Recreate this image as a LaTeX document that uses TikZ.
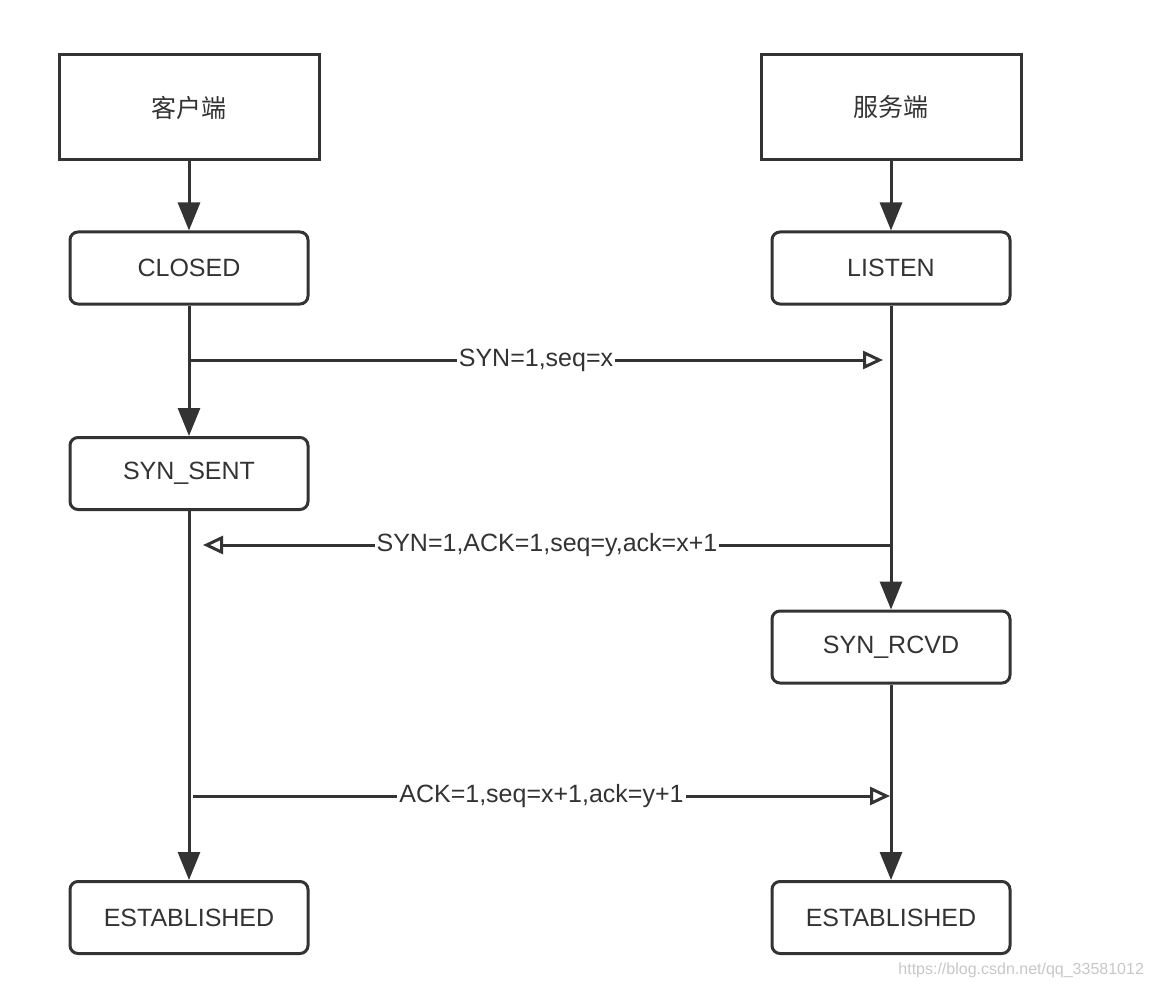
\documentclass[tikz,border=0pt]{standalone}
\usepackage{fontspec}
\setmainfont{Liberation Sans}
\newfontfamily\cjk{Noto Sans CJK SC}
\usetikzlibrary{arrows.meta}
\definecolor{ink}{HTML}{333333}
\tikzset{>={Triangle[width=11pt,length=14pt]},
  hostbox/.style={draw=ink, line width=1.5pt, minimum width=130pt, minimum height=52.5pt,
    font=\cjk\fontsize{12.5}{15}\selectfont, text=ink},
  statebox/.style={draw=ink, line width=1.5pt, rounded corners=4pt, minimum width=119pt,
    minimum height=36pt, font=\fontsize{12.5}{15}\selectfont, text=ink},
  flow/.style={->, draw=ink, line width=1.5pt},
  msg/.style={-{Triangle[open,width=9pt,length=10pt]}, draw=ink, line width=1.5pt},
  msglabel/.style={fill=white, inner sep=1pt, font=\fontsize{12.5}{15}\selectfont, text=ink}}

\begin{document}
\begin{tikzpicture}[x=0.5pt,y=-0.5pt]
    \useasboundingbox (0,0) rectangle (1158,990);
    % the two hosts
    \node[hostbox] (client) at (189,107.5) {客户端};
    \node[hostbox] (server) at (891,107.5) {服务端};
    % states
    \node[statebox] (closed) at (189,268) {CLOSED};
    \node[statebox] (listen) at (891,268) {LISTEN};
    \node[statebox] (synsent) at (189,473.5) {SYN\_SENT};
    \node[statebox] (synrcvd) at (891,647) {SYN\_RCVD};
    \node[statebox] (estc) at (189,917.5) {ESTABLISHED};
    \node[statebox] (ests) at (891,917.5) {ESTABLISHED};
    \draw[flow] (client) -- (closed);
    \draw[flow] (server) -- (listen);
    \draw[flow] (closed) -- (synsent);
    \draw[flow] (synsent) -- (estc);
    \draw[flow] (listen) -- (synrcvd);
    \draw[flow] (synrcvd) -- (ests);
    % handshake messages
    \coordinate (syn1) at (189,360);
    \coordinate (syn2) at (883,360);
    \draw[msg] (syn1) -- node[msglabel] {SYN=1,seq=x} (syn2);
    \coordinate (synack1) at (891,545);
    \coordinate (synack2) at (203,545);
    \draw[msg] (synack1) -- node[msglabel] {SYN=1,ACK=1,seq=y,ack=x+1} (synack2);
    \coordinate (ack1) at (193,796);
    \coordinate (ack2) at (890,796);
    \draw[msg] (ack1) -- node[msglabel] {ACK=1,seq=x+1,ack=y+1} (ack2);
    \node[anchor=east, text=black!22, font=\fontsize{8}{10}\selectfont] (mark) at (1151,970) {https://blog.csdn.net/qq\_33581012};
\end{tikzpicture}
\end{document}
